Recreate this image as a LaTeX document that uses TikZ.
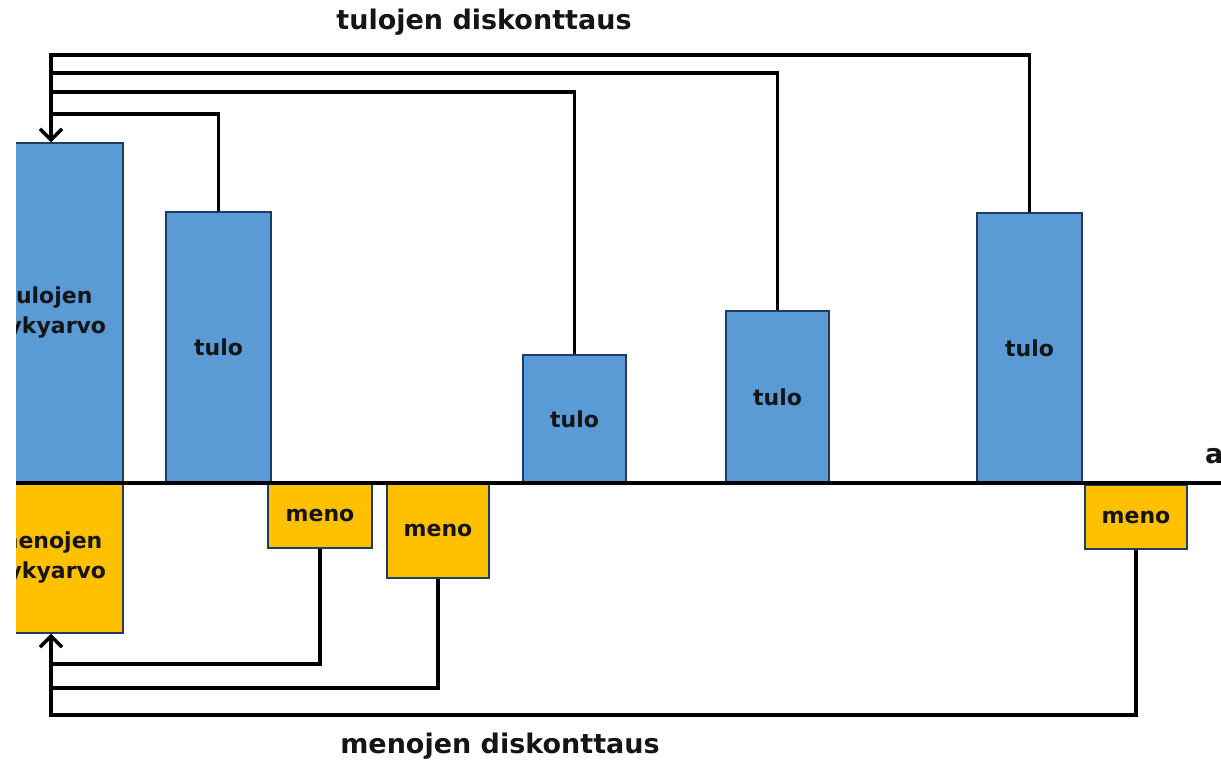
\documentclass[tikz,border=0pt]{standalone}
\usepackage{fontspec}
\setmainfont{DejaVu Sans}
\usetikzlibrary{arrows.meta}
\definecolor{boxblue}{HTML}{5B9BD5}
\definecolor{boxyellow}{HTML}{FFC000}
\definecolor{boxedge}{HTML}{243A66}
\definecolor{ink}{HTML}{151515}
\tikzset{
  bar/.style={draw=boxedge, line width=1.4pt, inner sep=0pt, align=center,
    text=ink, font=\fontsize{22}{30}\selectfont\bfseries},
  tulobox/.style={bar, fill=boxblue},
  menobox/.style={bar, fill=boxyellow},
  conn/.style={draw=black, line width=3.4pt, line join=miter},
  arr/.style={-{Straight Barb[length=11pt,width=22pt,line width=3.4pt]}},
  title/.style={font=\fontsize{27}{32}\selectfont\bfseries, text=ink, inner sep=0pt},
}
\begin{document}
\begin{tikzpicture}[x=1pt,y=-1pt]
\useasboundingbox (0,0) rectangle (1221,762);
\clip (16,0) rectangle (1221,762);
% left present-value boxes (extend beyond left edge)
\node[tulobox, minimum width=148pt, minimum height=340pt] (lb) at (49,313) {tulojen\\nykyarvo};
\node[menobox, minimum width=148pt, minimum height=150pt] (ly) at (49,558) {menojen\\nykyarvo};
% income bars
\node[tulobox, minimum width=105pt, minimum height=271pt] (t1) at (218.5,347.5) {tulo};
\node[tulobox, minimum width=103pt, minimum height=128pt] (t2) at (574.5,419) {tulo};
\node[tulobox, minimum width=103pt, minimum height=172pt] (t3) at (777.5,397) {tulo};
\node[tulobox, minimum width=105pt, minimum height=270pt] (t4) at (1029.5,348) {tulo};
% expense bars
\node[menobox, minimum width=104pt, minimum height=65pt] (m1) at (320,515.5) {meno};
\node[menobox, minimum width=102pt, minimum height=95pt] (m2) at (438,530.5) {meno};
\node[menobox, minimum width=102pt, minimum height=64pt] (m3) at (1136,517) {meno};
% axis
\coordinate (ax0) at (16,483);
\coordinate (ax1) at (1221,483);
\draw[line width=3.4pt] (ax0) -- (ax1);
\node[font=\fontsize{27}{30}\selectfont\bfseries, text=ink, anchor=base west, inner sep=0pt] (aika) at (1205,463) {aika};
% discounting of incomes
\draw[conn, arr] (t4.north) |- (51,55) -- ([xshift=2pt]lb.north);
\draw[conn] (t3.north) |- (51,73);
\draw[conn] (t2.north) |- (51,92);
\draw[conn] (t1.north) |- (51,114);
% discounting of expenses
\draw[conn, arr] (m3.south) |- (51,715) -- ([xshift=2pt]ly.south);
\draw[conn] (m2.south) |- (51,688);
\draw[conn] (m1.south) |- (51,664);
% titles
\node[title] (ttop) at (484,22) {tulojen diskonttaus};
\node[title] (tbot) at (500,746) {menojen diskonttaus};
\end{tikzpicture}
\end{document}
